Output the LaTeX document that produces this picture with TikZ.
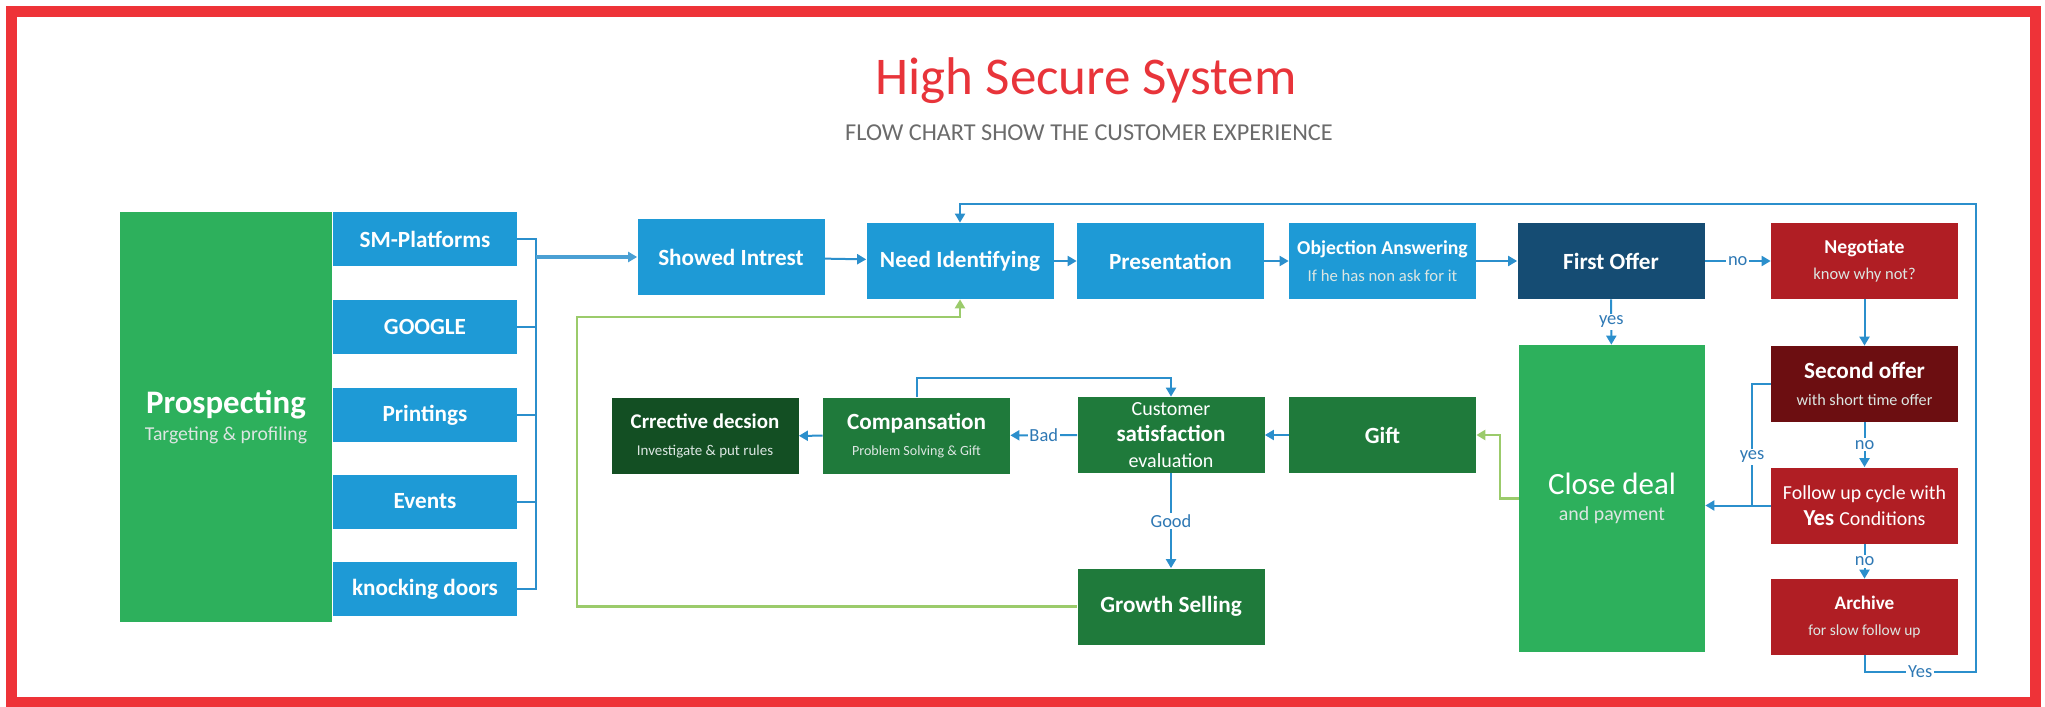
\documentclass[tikz,border=0pt]{standalone}
\usepackage{fontspec}
\setmainfont{Carlito}
\usetikzlibrary{arrows.meta}

\definecolor{framered}{HTML}{EE3338}
\definecolor{titlered}{HTML}{E8343A}
\definecolor{subgray}{HTML}{6B6B6B}
\definecolor{cblue}{HTML}{1E9AD6}
\definecolor{cnavy}{HTML}{154C73}
\definecolor{cgreen}{HTML}{2DB05C}
\definecolor{cdgreen}{HTML}{1F7A3B}
\definecolor{cddgreen}{HTML}{134F23}
\definecolor{cred}{HTML}{B01E24}
\definecolor{cmaroon}{HTML}{6C0E11}
\definecolor{lineblue}{HTML}{2B8FCC}
\definecolor{lblblue}{HTML}{2E78B4}
\definecolor{linegreen}{HTML}{9BCB6B}
\definecolor{paletxt}{HTML}{DCE6E2}

\newcommand{\fs}[1]{\fontsize{#1}{#1}\selectfont}
\newcommand{\subtxt}[2]{{\fontsize{#1}{#1}\selectfont\mdseries\color{paletxt}#2}}

\tikzset{
  box/.style={inner sep=0pt, minimum width=37.4mm, minimum height=15.2mm, align=center, text=white, font=\bfseries\fontsize{13.2}{15}\selectfont},
  bluebox/.style={box, fill=cblue},
  navybox/.style={box, fill=cnavy},
  greenbox/.style={box, fill=cdgreen},
  darkbox/.style={box, fill=cddgreen},
  redbox/.style={box, fill=cred},
  maroonbox/.style={box, fill=cmaroon},
  chanbox/.style={box, fill=cblue, minimum width=36.8mm, minimum height=10.8mm},
  link/.style={draw=lineblue, line width=0.4mm},
  flow/.style={link, -{Triangle[length=1.8mm, width=2mm]}},
  gflow/.style={draw=linegreen, line width=0.45mm, -{Triangle[length=1.8mm, width=2mm]}},
  lbl/.style={fill=white, text=lblblue, inner sep=1pt, font=\fontsize{10.5}{12}\selectfont},
}

\begin{document}
\begin{tikzpicture}[x=0.2mm, y=-0.2mm]
\useasboundingbox (0, 0) rectangle (2045, 707);
\draw[framered, line width=2.2mm] (11.5, 11.5) rectangle (2035, 702.5);

\node (T) at (1086, 95) [anchor=base, text=titlered, font=\fontsize{30.2}{32}\selectfont] {High Secure System};
\node (ST) at (1089, 141) [anchor=base, text=subgray, font=\fontsize{13.8}{15}\selectfont] {FLOW CHART SHOW THE CUSTOMER EXPERIENCE};

\node (PS) at (226, 417) [box, fill=cgreen, minimum width=42.4mm, minimum height=81.8mm] {\fs{18.7}Prospecting\\\subtxt{11.2}{Targeting \& profiling}};
\node (SM) at (425, 239) [chanbox] {SM-Platforms};
\node (GO) at (425, 326.5) [chanbox] {GOOGLE};
\node (PT) at (425, 415) [chanbox] {Printings};
\node (EV) at (425, 501.5) [chanbox] {Events};
\node (KD) at (425, 589) [chanbox] {knocking doors};

\node (SI) at (731, 257) [bluebox] {Showed Intrest};
\node (NI) at (960, 261) [bluebox] {Need Identifying};
\node (PR) at (1170.5, 261) [bluebox] {Presentation};
\node (OA) at (1382.5, 261) [bluebox] {\fs{11.2}Objection Answering\\\subtxt{9.5}{If he has non ask for it}};
\node (FO) at (1611, 261) [navybox] {First Offer};
\node (NG) at (1864.5, 261) [redbox] {\fs{11.2}Negotiate\\\subtxt{9.4}{know why not?}};

\node (SO) at (1864.5, 384) [maroonbox] {Second offer\\\subtxt{9.2}{with short time offer}};
\node (FU) at (1864.5, 505.5) [redbox] {\mdseries\fs{11.3}Follow up cycle with\\\fs{13}Yes \mdseries\fs{11.3}Conditions};
\node (AR) at (1864.5, 617) [redbox] {\fs{10.9}Archive\\\subtxt{8.8}{for slow follow up}};
\node (CD) at (1612, 498.5) [box, fill=cgreen, minimum width=37.2mm, minimum height=61.4mm] {\mdseries\fs{17.6}Close deal\\\subtxt{11.3}{and payment}};

\node (CR) at (705, 436) [darkbox] {\fs{11.9}Crrective decsion\\\subtxt{8.5}{Investigate \& put rules}};
\node (CP) at (916.5, 435.5) [greenbox] {Compansation\\\subtxt{8}{Problem Solving \& Gift}};
\node (CS) at (1171, 435) [greenbox] {\mdseries\fs{11.4}Customer\\\fs{13.1}satisfaction\\\mdseries\fs{11.4}evaluation};
\node (GF) at (1382.5, 435) [greenbox] {Gift};
\node (GS) at (1171, 606.5) [greenbox] {Growth Selling};

\coordinate (BR) at (536, 257);
\draw[link] (SM.east) -| (BR) |- (KD.east);
\foreach \n in {GO,PT,EV} \draw[link] (\n.east) -- (\n.east -| BR);
\draw[flow, line width=0.8mm, draw=lineblue!85] (BR) -- (SI.west);

\draw[flow] (SI) -- (NI);
\draw[flow] (NI) -- (PR);
\draw[flow] (PR) -- (OA);
\draw[flow] (OA) -- (FO);
\draw[flow] (FO) -- node[lbl] {no} (NG);
\draw[flow] (FO) -- node[lbl] {yes} (CD);
\draw[flow] (NG) -- (SO);
\draw[flow] (SO) -- node[lbl] {no} (FU);
\draw[flow] (FU) -- node[lbl] {no} (AR);

\coordinate (YS) at (1752, 505.5);
\draw[link] (SO.west) -| node[lbl, pos=0.8] {yes} (YS);
\draw[flow] (FU.west) -- (FU.west -| CD.east);

\coordinate (RB) at (1976, 672);
\coordinate (RT) at (1976, 204);
\draw[flow] (AR.south) |- node[lbl, pos=0.75] {Yes} (RB) -- (RT) -| (NI.north);

\draw[gflow] (CD.west) -- ++(-19, 0) |- (GF.east);
\draw[flow] (GF) -- (CS);
\draw[flow] (CS) -- node[lbl] {Bad} (CP);
\draw[flow] (CP) -- (CR);
\draw[flow] (CP.north) -- ++(0, -19) -| (CS.north);
\draw[flow] (CS) -- node[lbl] {Good} (GS);

\coordinate (GL) at (577, 317);
\draw[gflow] (GS.west) -| (GL) -| (NI.south);
\end{tikzpicture}
\end{document}
